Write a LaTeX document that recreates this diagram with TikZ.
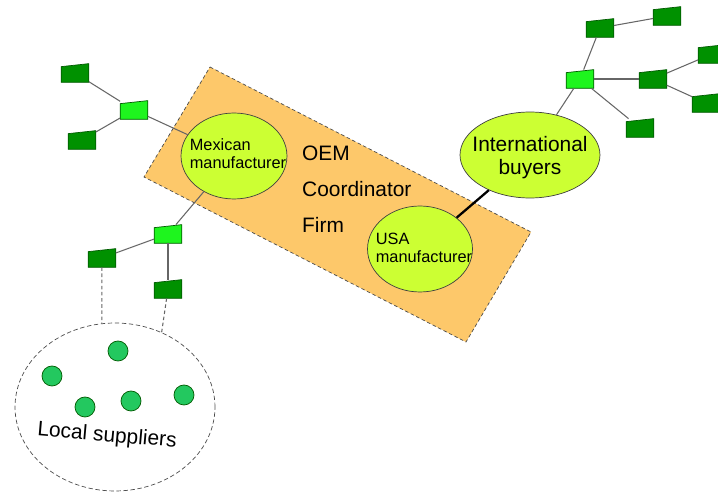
\documentclass[tikz,border=0pt]{standalone}
\usepackage{fontspec}
\setmainfont{Liberation Sans}
\usepackage{tikz}
\usetikzlibrary{shapes}
\usetikzlibrary{positioning}

\definecolor{oemfill}{RGB}{253,200,106}
\definecolor{firmfill}{RGB}{204,255,51}
\definecolor{leafdark}{RGB}{0,145,0}
\definecolor{leaflight}{RGB}{30,245,30}
\definecolor{leafline}{RGB}{0,90,0}
\definecolor{dotfill}{RGB}{35,200,95}

\tikzset{
  firm/.style={ellipse, draw=black!75, fill=firmfill, inner sep=0pt},
  leaf/.style={rectangle, inner sep=0pt, minimum width=0.54cm, minimum height=0.36cm},
  link/.style={draw=black!60, line width=0.6pt},
  dot/.style={circle, draw=leafline, fill=dotfill, minimum size=0.4cm, inner sep=0pt},
  bigtext/.style={font=\fontsize{11.9}{13}\selectfont},
  smalltext/.style={font=\fontsize{9.3}{10.4}\selectfont, align=left}
}

\newcommand{\leafbox}[3]{%
  \node[leaf] (#1) at (#2) {};
  \filldraw[fill=#3, draw=leafline] (#1.south west) -- (#1.south east)
    -- (#1.north east) -- ([yshift=-0.06cm]#1.north west) -- cycle;
}

\begin{document}
\begin{tikzpicture}[x=0.02cm, y=-0.02cm]
    \clip (0,0) rectangle (718,493);

    % coordinator firm
    \filldraw[fill=oemfill, draw=black!70, dash pattern=on 2pt off 1.5pt]
      (210,67) -- (531,232) -- (466,342) -- (144,177) -- cycle;
    \node[anchor=west, align=left, font=\fontsize{11.9}{20.5}\selectfont] (oem) at (296,189) {OEM\\Coordinator\\Firm};

    \node[firm, minimum width=2.12cm, minimum height=1.72cm] (mex) at (234,156) {};
    \node[smalltext] (mextext) at (238,154) {Mexican\\manufacturer};
    \node[firm, minimum width=2.1cm, minimum height=1.72cm] (usa) at (420,249) {};
    \node[smalltext] (usatext) at (424,248) {USA\\manufacturer};
    \node[firm, minimum width=2.8cm, minimum height=1.72cm] (intl) at (530,155) {};
    \node[bigtext, align=center] (intltext) at (530,158) {International\\buyers};

    % local suppliers
    \node[ellipse, draw=black!70, dash pattern=on 2.5pt off 1.5pt, minimum width=4cm, minimum height=3.36cm] (local) at (115,407) {};
    \node[bigtext, rotate=-5] (localtext) at (107,436) {Local suppliers};
    \foreach \n/\x/\y in {1/118/351, 2/52/376, 3/85/407, 4/131/401, 5/184/395}
      \node[dot] (s\n) at (\x,\y) {};

    % supply chain boxes
    \leafbox{mexhub}{134,110}{leaflight}
    \leafbox{mexa}{75,73}{leafdark}
    \leafbox{mexb}{82,140}{leafdark}
    \leafbox{suphub}{168,234}{leaflight}
    \leafbox{supa}{102,258}{leafdark}
    \leafbox{supb}{168,289}{leafdark}
    \leafbox{buyhub}{580,79}{leaflight}
    \leafbox{buya}{600,28}{leafdark}
    \leafbox{buyb}{667,16}{leafdark}
    \leafbox{buyc}{653,79}{leafdark}
    \leafbox{buyd}{712,54}{leafdark}
    \leafbox{buye}{706,103}{leafdark}
    \leafbox{buyf}{640,128}{leafdark}

    \draw[link] (mexa) -- (mexhub);
    \draw[link] (mexb) -- (mexhub);
    \draw[link] (mexhub) -- (mex);
    \draw[link] (mex) -- (suphub);
    \draw[link] (suphub) -- (supa);
    \draw[link] (suphub) -- (supb);
    \draw[link, dash pattern=on 2pt off 1.5pt] (supa) -- (local.99);
    \draw[link, dash pattern=on 2pt off 1.5pt] (supb) -- (local.58);

    \draw[line width=1.3pt] (usa) -- (intl);
    \draw[link] (intl) -- (buyhub);
    \draw[link] (buyhub) -- (buya);
    \draw[link] (buya) -- (buyb);
    \draw[link] (buyhub) -- (buyc);
    \draw[link] (buyc) -- (buyd);
    \draw[link] (buyc) -- (buye);
    \draw[link] (buyhub) -- (buyf);
\end{tikzpicture}
\end{document}
